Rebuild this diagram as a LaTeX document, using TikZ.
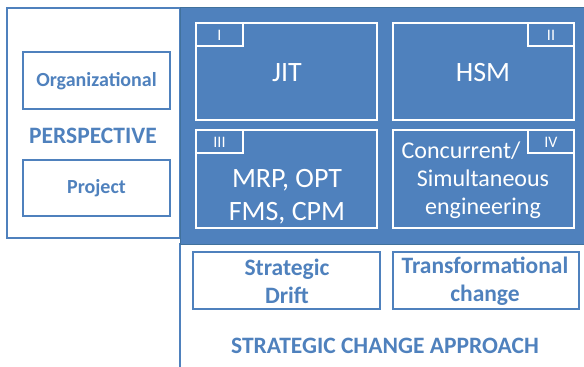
\documentclass[tikz,border=0pt]{standalone}
\usepackage{fontspec}
\setmainfont{Carlito}
\usepackage{xcolor}
\definecolor{officeblue}{HTML}{4F81BD}
\definecolor{edgeblue}{HTML}{41719C}

\begin{document}
\begin{tikzpicture}[x=1pt,y=-1pt,
	lbl/.style={text=officeblue,font=\bfseries\fontsize{20}{28}\selectfont,align=center},
	biglbl/.style={lbl,font=\bfseries\fontsize{23.5}{28}\selectfont},
	qtext/.style={text=white,font=\fontsize{28}{33}\selectfont,align=center},
	tabtext/.style={text=white,font=\fontsize{16}{16}\selectfont}]
	\useasboundingbox (0,0) rectangle (584,367);
	% frames
	\draw[officeblue,line width=1.5pt] (7,8) rectangle (180,238);
	\draw[officeblue,line width=1.5pt] (180,243) -- (180,370);
	\filldraw[fill=officeblue,draw=edgeblue,line width=1pt] (180,7) rectangle (590,244);
	% perspective side
	\draw[officeblue,line width=1.5pt] (23,52) rectangle (170,109);
	\draw[officeblue,line width=1.5pt] (23,160) rectangle (170,216);
	\node[lbl] (org) at (96.5,81) {Organizational};
	\node[biglbl] (persp) at (93,136) {PERSPECTIVE};
	\node[lbl] (proj) at (96.5,188) {Project};
	% quadrants
	\draw[white,line width=2pt] (196,23) rectangle (377,120);
	\draw[white,line width=2pt] (393,23) rectangle (574,120);
	\draw[white,line width=2pt] (196,130) rectangle (377,228);
	\draw[white,line width=2pt] (393,130) rectangle (574,228);
	\draw[white,line width=2pt] (196,46) -| (243,23);
	\draw[white,line width=2pt] (528,23) |- (574,46);
	\draw[white,line width=2pt] (196,153) -| (243,130);
	\draw[white,line width=2pt] (528,130) |- (574,153);
	\node[tabtext] (t1) at (219.5,35) {I};
	\node[tabtext] (t2) at (551,35) {II};
	\node[tabtext] (t3) at (219.5,142) {III};
	\node[tabtext] (t4) at (551,142) {IV};
	\node[qtext] (jit) at (287,73) {JIT};
	\node[qtext] (hsm) at (483,73) {HSM};
	\node[qtext] (mrp) at (287,197) {MRP, OPT\\FMS, CPM};
	\node[qtext,font=\fontsize{24}{28}\selectfont] (conc) at (483,180) {Concurrent/\hspace*{44pt}\\Simultaneous\\engineering};
	% change approach side
	\draw[officeblue,line width=1.5pt] (193,252) rectangle (380,309);
	\draw[officeblue,line width=1.5pt] (393,252) rectangle (579,309);
	\node[biglbl] (drift) at (287,281) {Strategic\\Drift};
	\node[biglbl] (trans) at (485,281) {Transformational\\change};
	\node[biglbl] (sca) at (385,346) {STRATEGIC CHANGE APPROACH};
\end{tikzpicture}
\end{document}
